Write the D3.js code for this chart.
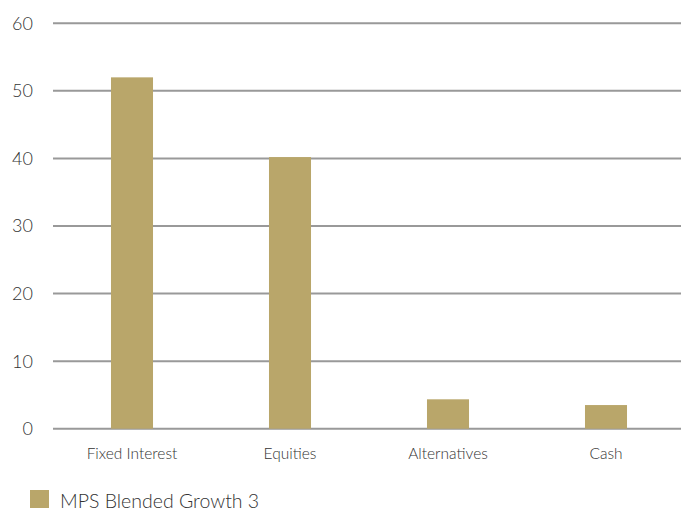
<!DOCTYPE html>
<html>
<head>
<meta charset="utf-8">
<script src="https://cdn.jsdelivr.net/npm/d3@7"></script>
<style>
  body { margin: 0; background: #fff; }
  text { font-family: "Lato", "Open Sans", sans-serif; font-weight: 300; fill: #333; }
</style>
</head>
<body>
<svg id="chart" width="681" height="513"></svg>
<script>
// chart data
var categories = ["Fixed Interest", "Equities", "Alternatives", "Cash"];
var values = [52, 40.2, 4.35, 3.5];
var yTicks = [0, 10, 20, 30, 40, 50, 60];
var seriesName = "MPS Blended Growth 3";

var svg = d3.select("#chart");
var barColor = "#b9a66a";

var x = d3.scaleBand()
  .domain(categories)
  .range([53, 685])
  .paddingInner(0.734)
  .paddingOuter(0.367);

var y = d3.scaleLinear()
  .domain([0, 60])
  .range([428.7, 23.3]);

// gridlines
svg.append("g")
  .selectAll("line")
  .data(yTicks)
  .enter()
  .append("line")
  .attr("x1", 53)
  .attr("x2", 681)
  .attr("y1", function(d) { return y(d); })
  .attr("y2", function(d) { return y(d); })
  .attr("stroke", "#999")
  .attr("stroke-width", 2);

// y labels
svg.append("g")
  .selectAll("text")
  .data(yTicks)
  .enter()
  .append("text")
  .attr("x", 33)
  .attr("y", function(d) { return y(d); })
  .attr("dy", "0.36em")
  .attr("text-anchor", "end")
  .attr("font-size", 18)
  .text(function(d) { return d; });

// bars
svg.append("g")
  .selectAll("rect")
  .data(values)
  .enter()
  .append("rect")
  .attr("x", function(d, i) { return x(categories[i]); })
  .attr("width", x.bandwidth())
  .attr("y", function(d) { return y(d); })
  .attr("height", function(d) { return y(0) - y(d); })
  .attr("fill", barColor);

// x labels
svg.append("g")
  .selectAll("text")
  .data(categories)
  .enter()
  .append("text")
  .attr("x", function(d) { return x(d) + x.bandwidth() / 2; })
  .attr("y", 459)
  .attr("text-anchor", "middle")
  .attr("font-size", 15.5)
  .text(function(d) { return d; });

// legend
svg.append("rect")
  .attr("x", 30)
  .attr("y", 490)
  .attr("width", 19)
  .attr("height", 18)
  .attr("fill", barColor);

svg.append("text")
  .attr("x", 60)
  .attr("y", 508)
  .attr("font-size", 19.5)
  .text(seriesName);
</script>
</body>
</html>
